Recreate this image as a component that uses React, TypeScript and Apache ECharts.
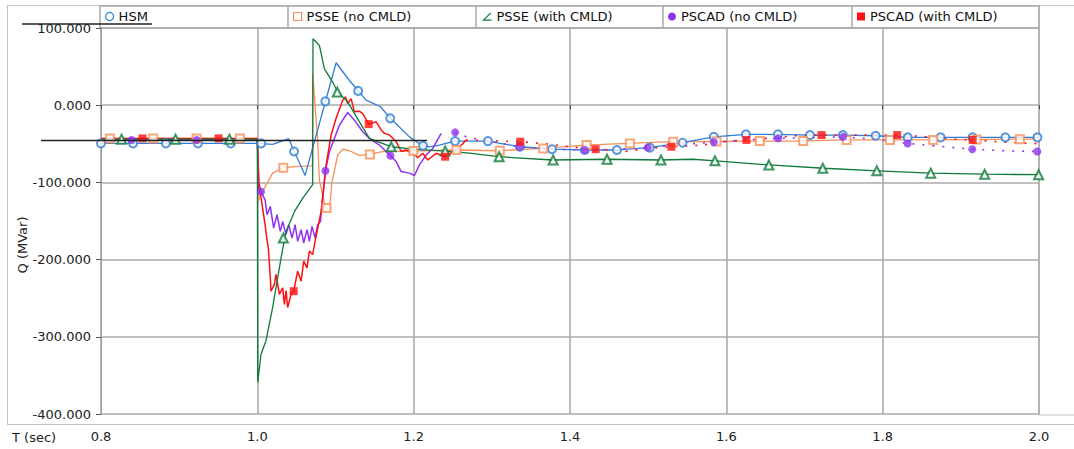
import React, { useEffect, useRef } from "react";
import * as echarts from "echarts";

type P = [number, number];

// ---- series data: [time (s), Q (MVar)] ----
const hsmLine: P[] = [
  [0.8, -49.5], [1.0, -49.5], [1.0196, -50.8], [1.0401, -43.4], [1.0611, -91], [1.1008, 55],
  [1.1178, 32], [1.1392, 6.5], [1.1575, -2], [1.1703, -17], [1.1946, -41], [1.2116, -52.5],
  [1.2202, -54], [1.233, -51.6], [1.2522, -46.5], [1.2945, -46.5], [1.3355, -53.8], [1.3773, -57],
  [1.4187, -58], [1.4597, -58], [1.5019, -55], [1.5438, -48.6], [1.5839, -41], [1.6248, -37.8],
  [1.6662, -37.8], [1.7074, -38.7], [1.7494, -38.7], [1.7908, -39.6], [1.8319, -41.7], [2.0, -41.7],
];
const hsmMarkers: P[] = [
  [0.8, -49.5], [0.841, -49.5], [0.883, -49.5], [0.924, -49.5], [0.966, -49.5], [1.005, -49.5],
  [1.047, -60], [1.087, 5], [1.129, 18.5], [1.17, -17], [1.212, -52.5], [1.253, -46.5],
  [1.295, -46.5], [1.336, -53.8], [1.377, -57], [1.419, -58], [1.46, -58], [1.502, -55],
  [1.544, -48.6], [1.584, -41], [1.625, -37.8], [1.666, -37.8], [1.707, -38.7], [1.749, -38.7],
  [1.791, -39.6], [1.832, -41.7], [1.874, -41.7], [1.915, -41.7], [1.957, -41.7], [1.998, -41.7],
];

const psseNoLine: P[] = [
  [0.8, -43], [1.0, -43], [1.001, -125], [1.0035, -118], [1.0196, -88], [1.0332, -81],
  [1.048, -79.6], [1.0705, -78.7], [1.0708, 41], [1.0772, -45], [1.0794, -97], [1.0871, -132.5],
  [1.0922, -135.5], [1.0956, -99], [1.1028, -64.5], [1.1092, -57], [1.1178, -59], [1.1306, -65],
  [1.1425, -63.7], [1.1604, -60], [1.1959, -59.4], [1.2531, -58], [1.3085, -59], [1.3633, -56],
  [1.4187, -51.6], [1.4742, -49.5], [1.5297, -47.3], [1.5853, -47], [1.6393, -46.5], [1.6949, -46.5],
  [1.7494, -45], [1.8595, -45], [1.9702, -44], [2.0, -44],
];
const psseNoMarkers: P[] = [
  [0.8114, -43], [0.8668, -43], [0.9223, -43], [0.9777, -43], [1.0332, -81], [1.0886, -133],
  [1.144, -63.7], [1.1995, -59.4], [1.2548, -58], [1.3102, -59], [1.3657, -56], [1.4213, -51.6],
  [1.4766, -49.5], [1.532, -47.3], [1.5875, -47], [1.6428, -46.5], [1.6984, -46.5], [1.7538, -45],
  [1.8092, -45], [1.8647, -45], [1.9201, -44.5], [1.9755, -44],
];

const psseWithLine: P[] = [
  [0.8, -44], [1.0, -44], [1.0005, -359], [1.0047, -322.6], [1.0111, -305], [1.0196, -262],
  [1.026, -223.6], [1.0303, -198], [1.0367, -163.5], [1.0476, -137.6], [1.0583, -120], [1.0708, -103],
  [1.0712, 86], [1.0794, 77.4], [1.0858, 47], [1.0964, 30], [1.1028, 17], [1.1156, 4.3],
  [1.1306, -21.5], [1.1434, -43], [1.1519, -46.5], [1.1712, -53.8], [1.1989, -56.8], [1.2417, -59.4],
  [1.2715, -62], [1.3085, -66.7], [1.3777, -71], [1.4468, -70], [1.5165, -71], [1.557, -70],
  [1.5865, -72], [1.6548, -77.4], [1.7245, -81.7], [1.7937, -85], [1.8617, -88], [1.9309, -89.4],
  [2.0, -90],
];
const psseWithMarkers: P[] = [
  [0.8263, -44], [0.8953, -44], [0.9643, -44], [1.0333, -172], [1.1023, 17], [1.1713, -53.8],
  [1.2403, -59.4], [1.3093, -66.7], [1.3784, -71], [1.4474, -70], [1.5164, -71], [1.5854, -72],
  [1.6544, -77.4], [1.7234, -81.7], [1.7925, -85], [1.8615, -88], [1.9305, -89.4], [1.9995, -90],
];

const pscadNoLine: P[] = [
  [0.8, -45], [1.0, -45], [1.002, -100], [1.0047, -111.9], [1.0099, -122.6], [1.0124, -141.9],
  [1.0166, -131.2], [1.0209, -159.1], [1.0252, -141.9], [1.0294, -163.5], [1.0324, -150.6],
  [1.0367, -167.7], [1.0401, -154.8], [1.0444, -172], [1.0483, -154.8], [1.0516, -176.4],
  [1.056, -161.3], [1.0593, -178.5], [1.0636, -161.3], [1.0666, -176.4], [1.07, -157],
  [1.0739, -172], [1.0772, -154.8], [1.0807, -150.6], [1.0836, -120.4], [1.0871, -84.8],
  [1.0922, -60.3], [1.0986, -43], [1.105, -25.8], [1.1156, -9.5], [1.1242, -19.4], [1.1348, -34.4],
  [1.1434, -43], [1.1562, -51.6], [1.1703, -65.4], [1.1776, -73], [1.184, -86], [1.1946, -88],
  [1.201, -91], [1.2074, -77.4], [1.216, -64.5], [1.2244, -56], [1.2352, -36.5],
];
const pscadNoTail: P[] = [
  [1.2531, -35.2], [1.27, -42], [1.295, -46], [1.3355, -54], [1.38, -57], [1.4187, -58],
  [1.46, -57], [1.4994, -55], [1.54, -51], [1.5839, -48], [1.625, -45], [1.6662, -43],
  [1.708, -42], [1.7494, -41], [1.79, -44], [1.8319, -49.5], [1.87, -53], [1.9146, -57],
  [1.955, -59], [2.0, -60],
];
const pscadNoMarkers: P[] = [
  [0.8391, -45], [0.9223, -45], [1.0047, -112], [1.0871, -85], [1.1703, -65.4], [1.2531, -35.2],
  [1.3355, -54], [1.4187, -58], [1.4994, -55], [1.5839, -48], [1.6662, -43], [1.7494, -41],
  [1.8319, -49.5], [1.9146, -57], [1.9978, -60],
];

const pscadWithLine: P[] = [
  [0.8, -43], [1.0, -43], [1.002, -110], [1.004, -115], [1.0099, -154.8], [1.012, -172],
  [1.0141, -185], [1.0166, -223.6], [1.0175, -241], [1.0218, -232], [1.0239, -219], [1.0282, -245],
  [1.0324, -236.5], [1.0346, -258], [1.0367, -240], [1.0388, -262], [1.0431, -245], [1.0465, -241],
  [1.0516, -215], [1.056, -228], [1.0593, -202], [1.0636, -210.8], [1.0666, -189], [1.0708, -193.5],
  [1.0739, -176], [1.0781, -155], [1.0816, -137.6], [1.0849, -107.5], [1.088, -77.4], [1.0944, -38.7],
  [1.1008, -17], [1.1092, 6.5], [1.1127, 10.8], [1.1156, 2.2], [1.12, 8.6], [1.1242, -8.6],
  [1.1306, -7.7], [1.1348, -10.8], [1.1425, -24.5], [1.152, -21.5], [1.1584, -32], [1.1626, -36.5],
  [1.169, -38.7], [1.1776, -47.3], [1.184, -60], [1.1904, -58], [1.1989, -62.3], [1.2053, -68],
  [1.2116, -62.3], [1.218, -71], [1.2288, -62.3], [1.2403, -66.7], [1.25, -60], [1.2628, -50],
  [1.267, -45],
];
const pscadWithTail: P[] = [
  [1.267, -45], [1.3, -46], [1.3364, -47.3], [1.37, -50], [1.4, -54], [1.4328, -57], [1.47, -60],
  [1.5, -56], [1.5297, -53.8], [1.57, -51.6], [1.6, -47], [1.6257, -45], [1.66, -42], [1.698, -38.7],
  [1.7218, -38.7], [1.77, -38.7], [1.8186, -38.7], [1.86, -41], [1.89, -44], [1.9151, -45],
  [1.96, -48], [2.0, -50],
];
const pscadWithMarkers: P[] = [
  [0.8531, -43], [0.9504, -43], [1.0465, -241], [1.1425, -24.5], [1.2403, -66.7], [1.3364, -47.3],
  [1.4328, -57], [1.5297, -53.8], [1.6257, -45], [1.7218, -38.7], [1.8186, -38.7], [1.9151, -45],
];

const seriesNames = ["HSM", "PSSE (no CMLD)", "PSSE (with CMLD)", "PSCAD (no CMLD)", "PSCAD (with CMLD)"];
const xTicks = { min: 0.8, max: 2.0, step: 0.2 };
const yTicks = { min: -400, max: 100, step: 100 };

const C = {
  hsm: "#2f7dd6",
  psseNo: "#f7905a",
  psseWith: "#0f7a3a",
  pscadNo: "#8f33f0",
  pscadWith: "#ff1010",
};

const FONT = "DejaVu Sans, Verdana, sans-serif";

export default function App() {
  const ref = useRef<HTMLDivElement>(null);

  useEffect(() => {
    if (!ref.current) return;
    const chart = echarts.init(ref.current, undefined, { renderer: "svg" });

    const lineS = (name: string, data: P[], color: string, width: number, z: number, dashed = false) => ({
      type: "line",
      name,
      data,
      symbol: "none",
      showSymbol: false,
      lineStyle: { color, width, type: dashed ? [2, 8] : "solid" },
      itemStyle: { color },
      z,
      silent: true,
    });
    const markS = (name: string, data: P[], color: string, symbol: string, size: number, z: number) => ({
      type: "scatter",
      name,
      data,
      symbol,
      symbolSize: size,
      itemStyle: symbol.startsWith("empty")
        ? { color, borderColor: color, borderWidth: 1.2 }
        : { color },
      z,
      silent: true,
    });

    const cells = [100, 288, 476, 663, 852];
    const legendIcons = [
      { icon: "circle", itemStyle: { color: "#fff", borderColor: C.hsm, borderWidth: 1.2 } },
      { icon: "path://M0,0 L10,0 L10,10 L0,10 Z", itemStyle: { color: "#fff", borderColor: C.psseNo, borderWidth: 1.2 } },
      { icon: "path://M10,0 L0,10 L11,10", itemStyle: { color: "none", borderColor: C.psseWith, borderWidth: 1.2 } },
      { icon: "circle", itemStyle: { color: C.pscadNo } },
      { icon: "rect", itemStyle: { color: C.pscadWith } },
    ];

    const gray = "#c4c4c4";
    const line = (x1: number, y1: number, x2: number, y2: number, stroke: string, lineWidth = 1, z = 0) => ({
      type: "line",
      shape: { x1, y1, x2, y2 },
      style: { stroke, lineWidth },
      z,
      silent: true,
    });

    chart.setOption({
      animation: false,
      backgroundColor: "#fff",
      textStyle: { fontFamily: FONT },
      grid: { left: 101, right: 35, top: 28, bottom: 35, containLabel: false },
      legend: seriesNames.map((n, i) => ({
        left: cells[i] + 5,
        top: 10,
        padding: 0,
        itemWidth: 8,
        itemHeight: 8,
        itemGap: 0,
        selectedMode: false,
        data: [{ name: n, ...legendIcons[i] }],
        textStyle: { fontSize: 13, color: "#111", fontFamily: FONT, padding: [3, 0, 0, 0] },
      })),
      xAxis: {
        type: "value",
        min: xTicks.min,
        max: xTicks.max,
        interval: xTicks.step,
        offset: 10,
        axisLine: { show: false },
        axisTick: { show: true, length: 4, lineStyle: { color: "#444" } },
        axisLabel: {
          margin: 6,
          fontSize: 13,
          color: "#222",
          fontFamily: FONT,
          formatter: (v: number) => v.toFixed(1),
        },
        splitLine: { show: true, lineStyle: { color: "#ababab", width: 1.6 } },
      },
      yAxis: {
        type: "value",
        min: yTicks.min,
        max: yTicks.max,
        interval: yTicks.step,
        axisLine: { show: true, lineStyle: { color: "#999", width: 1 } },
        axisTick: { show: true, length: 5, lineStyle: { color: "#555" } },
        axisLabel: {
          margin: 10,
          fontSize: 13,
          color: "#222",
          fontFamily: FONT,
          formatter: (v: number) => v.toFixed(3),
        },
        splitLine: { show: true, lineStyle: { color: "#ababab", width: 1.6 } },
      },
      graphic: [
        line(7, 5.5, 1074, 5.5, gray),
        line(7.5, 5, 7.5, 425, gray),
        line(7, 424.5, 1074, 424.5, gray),
        line(1039, 5, 1039, 415, "#aaa"),
        line(1039, 415, 1074, 415, gray),
        {
          type: "rect",
          shape: { x: 100, y: 6, width: 939, height: 22 },
          style: { fill: "none", stroke: "#a8a8a8", lineWidth: 1.5 },
          silent: true,
        },
        ...cells.slice(1).map((x) => line(x, 6, x, 28, "#a8a8a8", 1.5)),
        line(22, 24, 152, 24, "#222", 1.5, 100),
        line(41, 140.5, 427, 140.5, "#222", 1.5, 100),
        {
          type: "text",
          x: 12,
          y: 437,
          style: { text: "T (sec)", fontSize: 13, fill: "#222", fontFamily: FONT, verticalAlign: "middle" },
          silent: true,
        },
        {
          type: "text",
          x: 22,
          y: 245,
          rotation: Math.PI / 2,
          style: { text: "Q (MVar)", fontSize: 13, fill: "#222", fontFamily: FONT, align: "center", verticalAlign: "middle" },
          silent: true,
        },
      ],
      series: [
        lineS(seriesNames[1], psseNoLine, C.psseNo, 1.3, 2),
        lineS(seriesNames[0], hsmLine, C.hsm, 1.3, 3),
        lineS(seriesNames[3], pscadNoLine, C.pscadNo, 1.5, 4),
        lineS(seriesNames[3], pscadNoTail, C.pscadNo, 1.6, 4, true),
        lineS(seriesNames[4], pscadWithLine, C.pscadWith, 1.5, 5),
        lineS(seriesNames[4], pscadWithTail, C.pscadWith, 1.6, 5, true),
        lineS(seriesNames[2], psseWithLine, C.psseWith, 1.3, 6),
        markS(seriesNames[0], hsmMarkers, C.hsm, "emptyCircle", 8, 10),
        markS(seriesNames[1], psseNoMarkers, C.psseNo, "emptyRect", 8, 10),
        markS(seriesNames[2], psseWithMarkers, C.psseWith, "emptyTriangle", 9, 10),
        markS(seriesNames[3], pscadNoMarkers, C.pscadNo, "circle", 8, 11),
        markS(seriesNames[4], pscadWithMarkers, C.pscadWith, "rect", 8, 11),
      ],
    });

    return () => chart.dispose();
  }, []);

  return (
    <div
      ref={ref}
      style={{ position: "fixed", left: 0, top: 0, width: 1074, height: 449 }}
    />
  );
}
